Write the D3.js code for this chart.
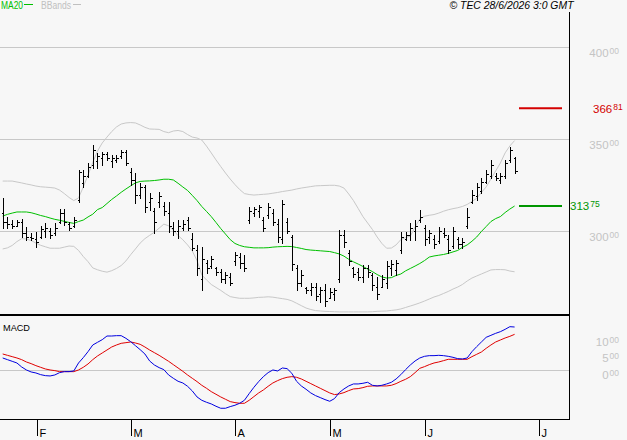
<!DOCTYPE html>
<html><head><meta charset="utf-8">
<script src="https://cdn.jsdelivr.net/npm/d3@7"></script>
<style>html,body{margin:0;padding:0;background:#f7f7f7;}svg{display:block;}</style>
</head><body><svg id="c" width="627" height="440"></svg>
<script>
// ---- data ----
const months = ["F","M","A","M","J","J"];
const monthPos = [7.2, 27.0, 49.1, 69.1, 89.0, 113.1]; // bar-index position of month start
const priceTicks = [300, 350, 400];
const macdTicks = [0, 5, 10];
const resistance = 366.81;
const maLast = 313.75;

const high = [317.9,307.9,306.1,306.1,306.7,302.5,298.9,299.8,302.9,304.3,301.6,304.3,312.0,312.0,305.2,307.9,333.3,333.3,337.0,346.9,
342.4,343.3,343.3,341.5,341.5,344.2,344.2,334.2,331.5,326.1,325.2,320.7,312.5,321.5,316.1,316.1,305.2,306.1,306.1,307.9,
298.9,292.6,291.6,284.4,286.6,280.8,279.3,278.0,277.5,288.9,288.0,287.1,313.4,313.4,314.3,307.9,315.5,312.0,306.5,317.0,
307.1,298.0,281.7,279.0,269.9,271.7,271.7,269.9,271.3,269.0,269.0,300.7,300.7,289.8,280.8,279.9,281.7,281.7,277.2,275.3,
276.3,283.9,284.4,284.4,299.8,299.8,304.3,306.1,311.6,303.4,300.7,298.0,302.5,301.6,298.0,302.5,297.1,296.2,312.5,322.4,
326.1,328.8,333.3,338.8,331.5,331.5,338.8,346.0,340.5];
const low = [301.6,301.6,301.6,302.9,297.1,295.3,295.3,291.6,296.2,297.1,296.2,298.0,304.3,303.4,300.7,302.5,316.1,324.2,329.7,334.2,
334.2,336.0,338.8,335.1,337.8,339.7,336.0,325.2,315.2,317.9,310.7,311.6,298.9,313.4,308.9,299.8,298.0,296.2,300.7,300.7,
289.8,276.3,268.1,277.2,279.9,276.3,272.6,271.7,270.8,281.7,279.9,278.6,304.7,308.3,307.9,300.3,307.1,303.4,294.3,293.5,
298.9,279.0,268.1,270.3,266.6,265.4,262.7,261.7,259.4,263.6,262.7,272.6,291.6,281.7,275.3,273.5,272.6,275.3,268.1,263.0,
269.9,269.0,276.3,276.3,288.0,295.3,295.3,295.3,305.2,292.6,293.5,290.8,293.5,297.1,288.0,290.8,290.8,290.8,301.6,315.2,
317.0,320.7,326.1,328.8,327.9,326.1,328.8,337.8,331.5];
const open = [310,305,304,303,305,299,297,296,297,300,300,299,305,310,304,303,317,326,330,336,
338,340,342,338,339,341,343,332,328,320,324,316,311,316,314,310,302,300,302,306,
296,290,274,283,281,280,278,274,275,284,286,283,306,310,311,306,309,310,304,296,
305,297,280,272,269,268,270,266,268,264,266,274,298,288,280,278,275,280,276,270,
270,272,280,279,290,296,298,300,306,302,297,296,295,299,296,292,296,293,303,316,
319,322,327,330,330,328,330,339,340];
const close = [305,304,303,305,299,297,296.5,294,301,302,298,302,310,305,302,306,332,330,335,344,
341,342,340,340,340,343,337,328,320,324,313,318,305,319,311,303,300,303,304,302,
291,280,285,280,285,278,274,276,272,287,283,280,311,312,313,302,313,305,297,315,
300,282,272,276,268,270,265,268,262,267,268,298,294,284,277,275,280,278,271,266,
274,281,282,283,297,298,302,303,308,296,299,293,300,298,290,300,293,294,308,320,
324,327,331,336,329,330,337,344,332.8];
const ma20 = [308.3,309.2,309.9,310.5,310.5,310.5,310.1,309.4,308.6,308.0,307.2,306.5,306.0,305.4,304.8,304.3,305.3,306.1,307.8,309.3,
311.8,312.9,315.1,317.3,319.2,321.2,323.0,324.7,326.3,327.1,327.3,327.4,327.6,327.9,328.3,328.3,327.9,326.1,324.1,322.2,
319.5,316.7,313.5,310.8,308.0,304.8,301.5,298.5,295.5,293.4,292.3,291.6,291.3,291.0,291.0,291.0,291.1,291.4,291.6,291.7,
291.8,291.7,291.2,290.7,290.1,289.8,289.6,289.4,289.2,289.0,288.4,287.7,286.5,284.8,283.4,282.2,280.9,279.5,278.1,276.5,
275.2,274.6,274.8,276.0,276.8,278.5,279.8,281.1,282.5,284.1,286.0,286.6,287.0,287.4,288.0,288.8,289.6,291.3,292.6,294.6,
296.9,299.9,302.6,305.3,306.9,308.0,310.2,312.1,313.75];
const bbUpper = [327.3,327.3,327.3,326.8,326.3,325.7,325.2,324.6,324.2,324.0,323.8,323.5,322.4,320.5,318.4,316.7,318.1,324.1,330.6,337.4,
343.6,348.0,351.2,354.2,356.7,358.3,358.9,359.1,358.9,357.8,356.5,355.6,355.5,355.4,354.2,353.6,354.5,354.8,354.2,352.6,
351.2,350.7,349.6,346.3,342.6,338.8,335.2,331.7,328.4,325.4,322.7,320.5,320.0,319.7,319.9,320.1,320.3,320.7,321.1,321.6,
322.0,322.4,323.0,323.5,323.9,324.3,324.7,324.8,324.9,325.0,325.0,324.6,323.5,320.3,316.7,312.4,308.0,304.5,301.0,296.9,
293.4,290.8,290.9,292.6,295.5,296.6,297.4,302.3,306.7,308.2,308.7,309.1,309.9,310.9,311.7,312.3,312.8,313.5,314.6,316.2,
317.9,321.1,324.1,328.4,332.8,337.1,342.6,346.4,349.3];
const bbLower = [290.4,291.0,292.3,294.4,296.0,295.8,295.0,293.6,292.4,291.6,290.8,290.8,290.8,291.4,292.0,291.8,289.6,286.3,283.5,280.1,
279.1,278.3,277.8,278.6,279.8,281.4,283.9,287.3,290.4,293.6,296.0,297.8,299.5,301.7,303.9,303.0,300.5,297.7,295.4,292.6,
289.3,284.1,276.3,273.6,271.1,269.5,267.9,266.1,264.5,264.0,263.6,263.6,263.6,263.8,264.1,264.2,264.4,264.2,263.8,263.4,
263.0,262.2,260.9,259.6,258.3,257.5,256.9,256.7,256.5,256.4,256.3,256.2,256.2,256.2,256.2,256.2,256.2,256.2,256.3,256.5,
256.6,256.7,257.0,257.3,257.8,258.6,259.4,260.2,261.1,262.1,263.2,264.3,265.1,266.2,267.3,268.6,269.7,271.1,273.0,274.6,
275.7,276.8,277.9,279.0,279.2,279.2,279.1,278.4,278.0];
const macd = [3.7,3.2,2.7,2.2,1.0,0.1,-0.5,-0.8,-1.3,-1.6,-1.7,-1.4,-0.7,-0.4,-0.4,-0.2,2.2,3.8,5.6,7.6,
8.4,9.2,10.3,10.3,10.4,10.4,9.6,8.6,7.4,6.2,4.9,2.8,1.6,0.8,0.2,-1.4,-2.4,-3.3,-3.8,-4.8,
-6.2,-8.0,-9.0,-9.6,-10.1,-10.8,-11.4,-11.4,-10.9,-10.5,-9.9,-9.0,-7.0,-5.1,-3.4,-1.9,-0.7,0.1,-0.2,0.7,
0.5,-0.9,-3.3,-4.7,-5.7,-6.8,-7.6,-8.2,-8.8,-9.3,-8.5,-6.7,-5.6,-4.7,-4.1,-4.1,-3.9,-3.6,-4.5,-4.7,
-4.5,-4.1,-3.6,-2.6,-1.3,0.2,1.6,2.8,3.7,4.2,4.4,4.4,4.5,4.4,4.2,3.9,3.5,3.4,3.7,5.6,
7.1,8.5,9.9,10.5,11.1,11.6,12.3,13.1,13.0];
const signal = [4.9,4.5,4.1,3.7,3.2,2.5,2.0,1.4,0.9,0.4,0.1,-0.1,-0.4,-0.4,-0.4,-0.4,0.1,0.9,1.9,3.2,
4.3,5.2,6.1,7.0,7.6,8.1,8.3,8.5,8.2,7.8,7.0,6.1,5.3,4.5,3.6,2.7,1.7,0.7,-0.3,-1.4,
-2.4,-3.4,-4.5,-5.4,-6.4,-7.2,-8.0,-8.7,-9.4,-9.7,-9.9,-9.9,-9.0,-7.9,-6.8,-5.9,-4.8,-3.8,-3.1,-2.5,
-2.1,-1.9,-2.1,-2.6,-3.3,-4.0,-4.7,-5.4,-6.1,-6.8,-7.3,-7.1,-6.7,-6.1,-5.6,-5.5,-5.2,-4.8,-4.7,-4.7,
-4.7,-4.7,-4.5,-4.0,-3.3,-2.7,-1.9,-0.7,0.6,1.1,1.7,2.2,2.5,2.9,3.3,3.3,3.3,3.3,3.3,4.1,
4.8,5.5,6.6,7.6,8.5,9.1,9.7,10.2,10.8];

// ---- drawing ----
const FONT = "'Liberation Sans', Arial, sans-serif";
const svg = d3.select('#c');
svg.append('rect').attr('width',627).attr('height',440).attr('fill','#f7f7f7');

const n = high.length;
const x = d3.scaleLinear().domain([0, n - 1]).range([2.7, 514.6]);
const y = d3.scaleLinear().domain([300, 400]).range([231.3, 47.3]);
const ym = d3.scaleLinear().domain([0, 10]).range([370.3, 337]);
const RIGHT = 569;
const crisp = v => Math.round(v) + 0.5;

// grid lines
const grid = svg.append('g').attr('shape-rendering','crispEdges');
priceTicks.forEach(v => grid.append('line').attr('x1',0).attr('x2',RIGHT).attr('y1',crisp(y(v))).attr('y2',crisp(y(v)))
  .attr('stroke','#c8c8c8'));
grid.append('line').attr('x1',0).attr('x2',RIGHT).attr('y1',crisp(ym(0))).attr('y2',crisp(ym(0))).attr('stroke','#c8c8c8');

// Bollinger bands and MA20
const lineP = d3.line().x((d,i)=>x(i)).y(d=>y(d));
svg.append('path').attr('d', lineP(bbUpper)).attr('fill','none').attr('stroke','#c8c8c8').attr('stroke-width',1);
svg.append('path').attr('d', lineP(bbLower)).attr('fill','none').attr('stroke','#c8c8c8').attr('stroke-width',1);
svg.append('path').attr('d', lineP(ma20)).attr('fill','none').attr('stroke','#00c000').attr('stroke-width',1);

// OHLC bars
const bars = svg.append('g').attr('shape-rendering','crispEdges').attr('stroke','#000').attr('stroke-width',1).attr('fill','none');
d3.range(n).forEach(i => {
  const xi = crisp(x(i));
  bars.append('path').attr('d',
    `M${xi},${Math.round(y(high[i]))}V${Math.round(y(low[i]))+1}` +
    `M${xi-2},${crisp(y(open[i]))}H${xi}` +
    `M${xi},${crisp(y(close[i]))}H${xi+2}`);
});

// level lines on the right
svg.append('line').attr('x1',519).attr('x2',562).attr('y1',y(resistance)).attr('y2',y(resistance))
  .attr('stroke','#d40000').attr('stroke-width',2);
svg.append('line').attr('x1',519).attr('x2',562).attr('y1',y(maLast)).attr('y2',y(maLast))
  .attr('stroke','#009600').attr('stroke-width',2);

// MACD lines
const lineM = d3.line().x((d,i)=>x(i)).y(d=>ym(d));
svg.append('path').attr('d', lineM(signal)).attr('fill','none').attr('stroke','#e00000').attr('stroke-width',1);
svg.append('path').attr('d', lineM(macd)).attr('fill','none').attr('stroke','#0000e0').attr('stroke-width',1);

// frame
const frame = svg.append('g').attr('shape-rendering','crispEdges').attr('stroke','#000');
frame.append('line').attr('x1',0).attr('x2',RIGHT+1).attr('y1',315).attr('y2',315).attr('stroke-width',2);
frame.append('line').attr('x1',0).attr('x2',RIGHT+1).attr('y1',419.5).attr('y2',419.5).attr('stroke-width',1);
frame.append('line').attr('x1',RIGHT+0.5).attr('x2',RIGHT+0.5).attr('y1',12).attr('y2',420).attr('stroke-width',1);

// month axis
const xAxis = d3.axisBottom(x).tickValues(monthPos).tickFormat((d,i)=>months[i]).tickSize(17).tickSizeOuter(0);
const gx = svg.append('g').attr('transform','translate(0,419)').call(xAxis);
gx.select('.domain').remove();
gx.selectAll('line').attr('stroke','#000').attr('shape-rendering','crispEdges');
gx.selectAll('.tick').attr('transform', d => `translate(${Math.round(x(d))+0.5},0)`);
gx.selectAll('text').attr('x',2).attr('y',18).attr('dy',0).attr('text-anchor','start')
  .attr('fill','#000').style('font-family',FONT).style('font-size','11px');

// price labels
function supLabel(g, tx, ty, main, sup, color, anchor) {
  const t = g.append('text').attr('x',tx).attr('y',ty).attr('text-anchor',anchor)
    .attr('fill',color).style('font-family',FONT).style('font-size','11.5px');
  t.append('tspan').text(main);
  t.append('tspan').text(sup).style('font-size','8.5px').attr('dy',-3).attr('dx',1);
  return t;
}
const labels = svg.append('g');
priceTicks.forEach(v => supLabel(labels, 619, y(v)+9.5, d3.format('d')(v), '00', '#c4c4c4', 'end'));
macdTicks.forEach(v => supLabel(labels, 619, ym(v)+8.7, d3.format('d')(v), '00', '#c4c4c4', 'end'));
const rs = resistance.toFixed(2).split('.');
supLabel(labels, 593, y(resistance)+4.3, rs[0], rs[1], '#d40000', 'start');
const ms = maLast.toFixed(2).split('.');
supLabel(labels, 570, y(maLast)+4, ms[0], ms[1], '#009600', 'start');

// legend & title
svg.append('text').attr('x',1).attr('y',8.5).text('MA20').attr('fill','#00c000')
  .style('font-family',FONT).style('font-size','10px').attr('textLength',22).attr('lengthAdjust','spacingAndGlyphs');
svg.append('line').attr('x1',24).attr('x2',33).attr('y1',4.5).attr('y2',4.5).attr('stroke','#00c000').attr('shape-rendering','crispEdges');
svg.append('text').attr('x',41).attr('y',8.5).text('BBands').attr('fill','#c0c0c0')
  .style('font-family',FONT).style('font-size','10px').attr('textLength',30).attr('lengthAdjust','spacingAndGlyphs');
svg.append('line').attr('x1',73).attr('x2',81).attr('y1',4.5).attr('y2',4.5).attr('stroke','#c0c0c0').attr('shape-rendering','crispEdges');
svg.append('text').attr('x',573.5).attr('y',8.5).attr('text-anchor','end').text('© TEC 28/6/2026 3:0 GMT')
  .attr('fill','#000').style('font-family',FONT).style('font-size','10px').style('font-style','italic')
  .attr('textLength',124).attr('lengthAdjust','spacingAndGlyphs');
svg.append('text').attr('x',3).attr('y',330.7).text('MACD').attr('fill','#000')
  .style('font-family',FONT).style('font-size','9.5px').attr('textLength',27).attr('lengthAdjust','spacingAndGlyphs');
</script></body></html>
